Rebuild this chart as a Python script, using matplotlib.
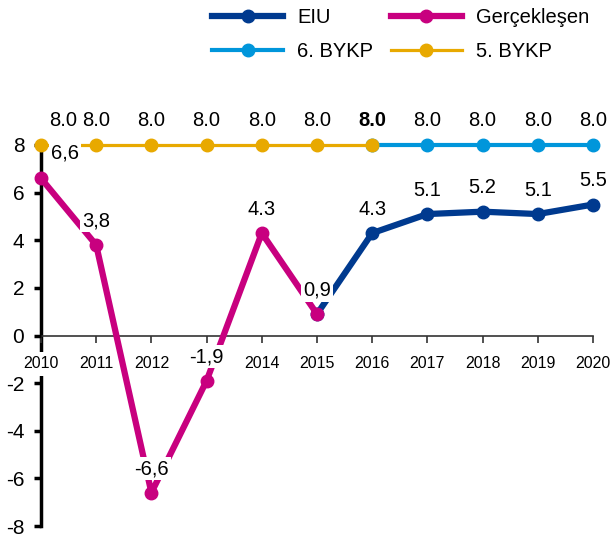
import matplotlib
matplotlib.use("Agg")
import matplotlib.pyplot as plt

plt.rcParams['font.family'] = ['Liberation Sans', 'DejaVu Sans']

years = [2010, 2011, 2012, 2013, 2014, 2015, 2016, 2017, 2018, 2019, 2020]
gercek_years = [2010, 2011, 2012, 2013, 2014, 2015]
gercek_vals = [6.6, 3.8, -6.6, -1.9, 4.3, 0.9]
gercek_labels = ["6,6", "3,8", "-6,6", "-1,9", "4.3", "0,9"]
eiu_years = [2015, 2016, 2017, 2018, 2019, 2020]
eiu_vals = [0.9, 4.3, 5.1, 5.2, 5.1, 5.5]
eiu_labels = ["", "4.3", "5.1", "5.2", "5.1", "5.5"]
bykp5_years = [2010, 2011, 2012, 2013, 2014, 2015, 2016]
bykp5_vals = [8.0, 8.0, 8.0, 8.0, 8.0, 8.0, 8.0]
bykp6_years = [2016, 2017, 2018, 2019, 2020]
bykp6_vals = [8.0, 8.0, 8.0, 8.0, 8.0]
yticks = [-8, -6, -4, -2, 0, 2, 4, 6, 8]

c_eiu = '#003A8F'
c_ger = '#C8007F'
c_b6 = '#0096DB'
c_b5 = '#E8A900'

fig = plt.figure(figsize=(6.11, 5.43), dpi=100)
ax = fig.add_axes([41/611, 1-526/543, (593-41)/611, (526-145)/543])
ax.set_xlim(2010, 2020)
ax.set_ylim(-8, 8)

l6, = ax.plot(bykp6_years, bykp6_vals, color=c_b6, lw=3.0, marker='o', ms=9, clip_on=False, zorder=3, label='6. BYKP')
l5, = ax.plot(bykp5_years, bykp5_vals, color=c_b5, lw=2.3, marker='o', ms=9, clip_on=False, zorder=3.1, label='5. BYKP')
le, = ax.plot(eiu_years, eiu_vals, color=c_eiu, lw=4.5, marker='o', ms=9, clip_on=False, zorder=3.2, label='EIU')
lg, = ax.plot(gercek_years, gercek_vals, color=c_ger, lw=4.5, marker='o', ms=9, clip_on=False, zorder=3.3, label='Gerçekleşen')

bb = dict(facecolor='white', edgecolor='none', pad=1.5)
fs = 14.5

def lab(x, y, t, dx=0, dy=17.3, fw='normal'):
    ax.annotate(t, (x, y), xytext=(dx, dy), textcoords='offset points', ha='center', va='center',
                fontsize=fs, bbox=bb, zorder=4, annotation_clip=False, fontweight=fw)

# 5. BYKP labels
for i, (x, y) in enumerate(zip(bykp5_years, bykp5_vals)):
    dx = 16 if i == 0 else 0
    lab(x, y, f"{y:.1f}", dx=dx)
for x, y in zip(bykp6_years, bykp6_vals):
    if x == 2016:
        lab(x, y, f"{y:.1f}", fw='bold')
    else:
        lab(x, y, f"{y:.1f}")

for i, (x, y, t) in enumerate(zip(gercek_years, gercek_vals, gercek_labels)):
    dx = 17 if i == 0 else 0
    dy = 18.5 if i == 0 else 17.3
    lab(x, y, t, dx=dx, dy=dy)
for x, y, t in zip(eiu_years, eiu_vals, eiu_labels):
    if t:
        lab(x, y, t)

# axes styling
for s in ['top', 'right']:
    ax.spines[s].set_visible(False)
ax.spines['left'].set_linewidth(2.5)
ax.spines['left'].set_color('black')
ax.spines['left'].set_zorder(1)
ax.spines['bottom'].set_position(('data', 0))
ax.spines['bottom'].set_linewidth(1.2)
ax.spines['bottom'].set_color('#333333')
ax.spines['bottom'].set_zorder(1)

ax.set_yticks(yticks)
ax.set_yticklabels([str(v) for v in yticks])
ax.tick_params(axis='y', direction='out', length=5, width=2.5, pad=7, labelsize=15)
ax.set_xticks(years)
ax.set_xticklabels([])
ax.tick_params(axis='x', direction='out', length=5, width=1.2, color='#333333')

for x in years:
    ax.annotate(str(x), (x, 0), xytext=(0, -20.5), textcoords='offset points', ha='center', va='center',
                fontsize=11.5, bbox=dict(facecolor='white', edgecolor='none', pad=3.5), zorder=2,
                annotation_clip=False)

fig.legend([le, l6, lg, l5], ['EIU', '6. BYKP', 'Gerçekleşen', '5. BYKP'], ncol=2,
           loc='upper left', bbox_to_anchor=(0.318, 1.018), frameon=False, fontsize=14.5,
           handlelength=3.5, handletextpad=0.7, columnspacing=0.9, labelspacing=0.75,
           numpoints=1)

fig.savefig('out.png', dpi=100)
